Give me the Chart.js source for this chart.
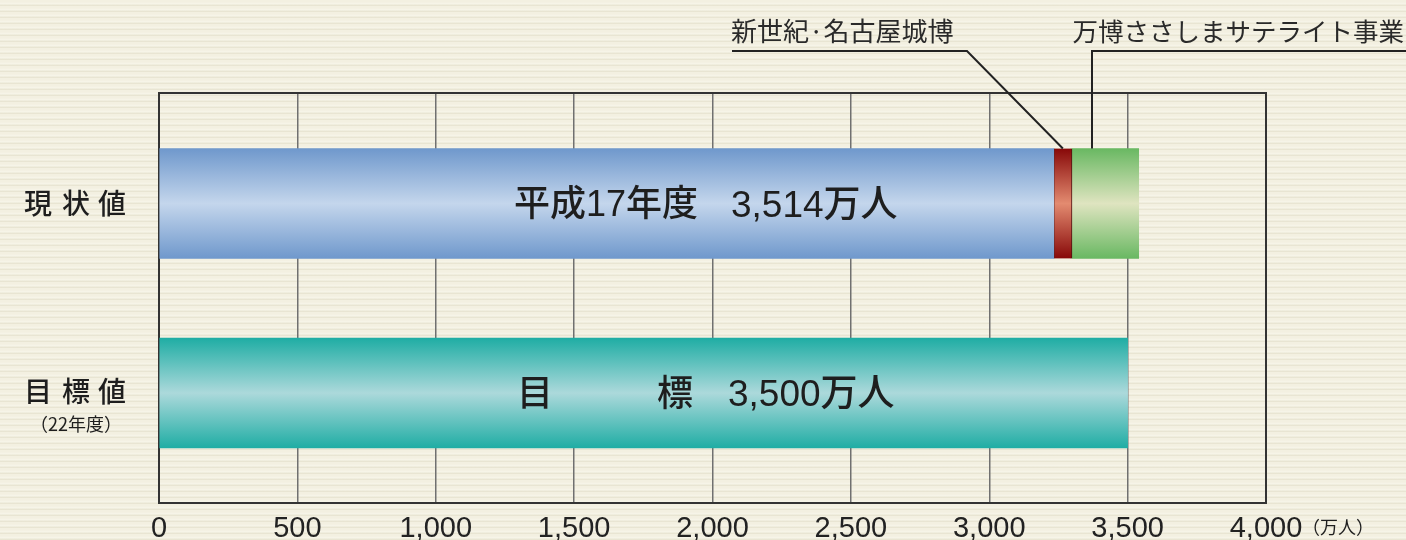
<!DOCTYPE html>
<html lang="ja">
<head>
<meta charset="utf-8">
<script src="https://cdn.jsdelivr.net/npm/chart.js@4.4.1/dist/chart.umd.min.js"></script>
<style>
  html, body { margin: 0; padding: 0; }
  body {
    width: 1406px; height: 540px; overflow: hidden;
    background-color: #f3f0e1;
    background-image:
      repeating-linear-gradient(0deg, rgba(185,180,145,0.18) 0px, rgba(185,180,145,0.18) 1px, rgba(255,255,250,0.35) 2px, rgba(255,255,250,0) 4px, rgba(0,0,0,0) 6px);
  }
  #wrap { position: relative; width: 1406px; height: 540px; }
</style>
</head>
<body>
<div id="wrap"><canvas id="c" width="1406" height="540"></canvas></div>
<script>
// ---- data ----
const categories = ['現状値', '目標値'];
const categoryNotes = ['', '（22年度）'];
const currentBase = [3233, null];      // 平成17年度 base
const nagoyaExpo = [66, null];         // 新世紀·名古屋城博
const sasashima = [241, null];         // 万博ささしまサテライト事業
const targetVals = [null, 3500];       // 目標
const seriesNames = ['平成17年度', '新世紀·名古屋城博', '万博ささしまサテライト事業', '目標'];
const tickValues = [0, 500, 1000, 1500, 2000, 2500, 3000, 3500, 4000];
const tickLabels = ['0', '500', '1,000', '1,500', '2,000', '2,500', '3,000', '3,500', '4,000'];
const unitLabel = '（万人）';
const barTextCurrent = ['平成17年度', '3,514万人'];
const barTextTarget = ['目', '標', '3,500万人'];

const FONT = '"Liberation Sans", "Noto Sans CJK JP", sans-serif';
const CJK = '"Noto Sans CJK JP", sans-serif';
const BAR_T = 110;

function toPoints(arr) {
  const out = [];
  arr.forEach((v, i) => { if (v !== null) out.push({ x: v, y: i }); });
  return out;
}

function grad(row, edge, mid, fallback) {
  return (ctx) => {
    const chart = ctx.chart;
    if (!chart.chartArea || !chart.scales.y) return fallback;
    const yc = chart.scales.y.getPixelForValue(row);
    const g = chart.ctx.createLinearGradient(0, yc - BAR_T / 2, 0, yc + BAR_T / 2);
    g.addColorStop(0, edge);
    g.addColorStop(0.5, mid);
    g.addColorStop(1, edge);
    return g;
  };
}

const decor = {
  id: 'decor',
  beforeDatasetsDraw(chart) {
    const { ctx, chartArea: a } = chart;
    ctx.save();
    ctx.strokeStyle = '#333';
    ctx.lineWidth = 2;
    ctx.strokeRect(a.left, a.top, a.right - a.left, a.bottom - a.top);
    ctx.restore();
  },
  afterDatasetsDraw(chart) {
    const { ctx, chartArea: a, scales } = chart;
    const x = scales.x, y = scales.y;
    ctx.save();
    // category labels
    ctx.fillStyle = '#1e1e1e';
    ctx.textAlign = 'center';
    ctx.textBaseline = 'middle';
    const catFont = '500 28px ' + CJK;
    ctx.font = catFont;
    const charX = [38, 76, 112];
    categories.forEach((c, i) => {
      const yc = y.getPixelForValue(i) + (categoryNotes[i] ? -2 : 0);
      [...c].forEach((ch, k) => ctx.fillText(ch, charX[k], yc));
      if (categoryNotes[i]) {
        ctx.font = '18px ' + CJK;
        ctx.fillText(categoryNotes[i], 76, yc + 33);
        ctx.font = catFont;
      }
    });
    // bar texts
    ctx.textAlign = 'left';
    ctx.font = '500 36px ' + FONT;
    const y0 = y.getPixelForValue(0) + 3;
    ctx.fillText(barTextCurrent[0], 514, y0);
    ctx.font = '500 37px ' + FONT;
    ctx.fillText(barTextCurrent[1], 731, y0);
    const y1 = y.getPixelForValue(1) + 3;
    ctx.font = '500 36px ' + FONT;
    ctx.fillText(barTextTarget[0], 517, y1);
    ctx.fillText(barTextTarget[1], 657, y1);
    ctx.font = '500 37px ' + FONT;
    ctx.fillText(barTextTarget[2], 728, y1);
    // unit label
    ctx.font = '18px ' + CJK;
    ctx.fillText(unitLabel, 1302, 527);
    // annotations
    ctx.font = '26px ' + CJK;
    ctx.fillStyle = '#2a2a2a';
    ctx.fillText(seriesNames[1], 731, 31);
    ctx.font = '25.5px ' + CJK;
    ctx.textAlign = 'right';
    ctx.fillText(seriesNames[2], 1404, 31);
    const barTop = y.getPixelForValue(0) - BAR_T / 2;
    const redMid = x.getPixelForValue(currentBase[0] + nagoyaExpo[0] / 2);
    ctx.strokeStyle = '#222';
    ctx.lineWidth = 2;
    ctx.beginPath();
    ctx.moveTo(732, 51); ctx.lineTo(967, 51); ctx.lineTo(redMid, barTop);
    ctx.stroke();
    const greenX = x.getPixelForValue(currentBase[0] + nagoyaExpo[0]) + 20;
    ctx.beginPath();
    ctx.moveTo(1406, 51); ctx.lineTo(greenX, 51); ctx.lineTo(greenX, barTop);
    ctx.stroke();
    ctx.restore();
  }
};

new Chart(document.getElementById('c'), {
  type: 'bar',
  data: {
    datasets: [
      { label: seriesNames[0], data: toPoints(currentBase), backgroundColor: grad(0, '#6f98cc', '#c4d6ec', '#8fb0da'), borderWidth: 0 },
      { label: seriesNames[1], data: toPoints(nagoyaExpo), backgroundColor: grad(0, '#870808', '#e38b70', '#b03a2a'), borderColor: '#4a1010', borderWidth: { left: 1, right: 1 }, borderSkipped: false },
      { label: seriesNames[2], data: toPoints(sasashima), backgroundColor: grad(0, '#69b862', '#dfe4c0', '#9ccc88'), borderWidth: 0 },
      { label: seriesNames[3], data: toPoints(targetVals), backgroundColor: grad(1, '#1fada4', '#acd9db', '#60c0bc'), borderWidth: 0 }
    ]
  },
  options: {
    indexAxis: 'y',
    responsive: false,
    animation: false,
    layout: { padding: { left: 159, right: 140, top: 93, bottom: 0 } },
    datasets: { bar: { barThickness: BAR_T } },
    plugins: { legend: { display: false }, tooltip: { enabled: false } },
    scales: {
      x: {
        type: 'linear', stacked: true, min: 0, max: 4000,
        afterBuildTicks: (s) => { s.ticks = tickValues.map(v => ({ value: v })); },
        afterFit: (s) => { s.height = 37; },
        border: { display: false },
        grid: {
          drawTicks: false,
          color: (c) => (c.tick && (c.tick.value === 0 || c.tick.value === 4000)) ? 'rgba(0,0,0,0)' : '#707070',
          lineWidth: 1.5
        },
        ticks: {
          padding: 9,
          color: '#222',
          font: { family: FONT, size: 29 },
          maxRotation: 0, autoSkip: false,
          callback: (v) => tickLabels[tickValues.indexOf(v)]
        }
      },
      y: {
        type: 'linear', stacked: true, reverse: true, offset: false,
        min: -0.5831, max: 1.5805,
        display: false
      }
    }
  },
  plugins: [decor]
});
</script>
</body>
</html>
